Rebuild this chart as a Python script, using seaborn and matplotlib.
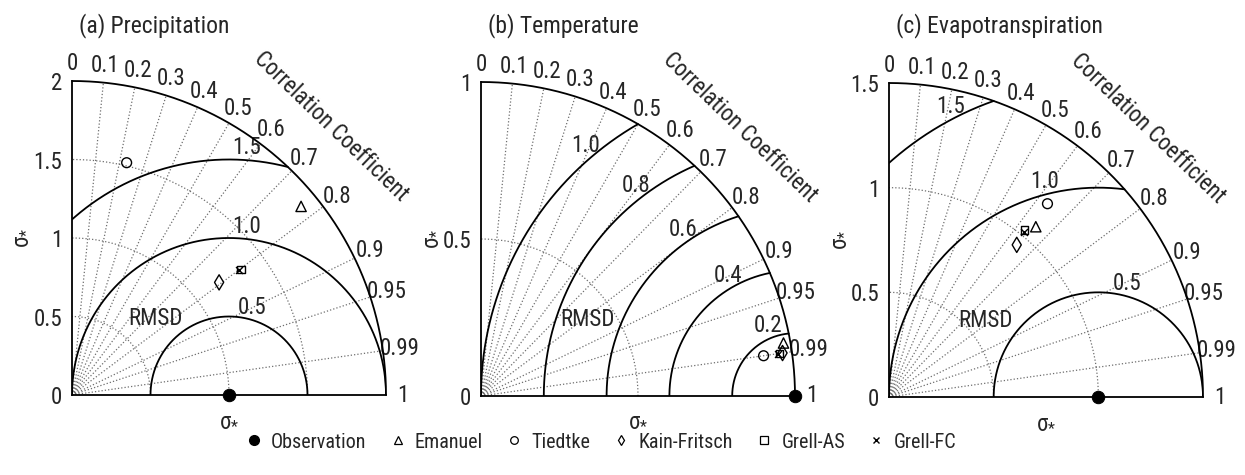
import numpy as np
import pandas as pd
import matplotlib
matplotlib.use("Agg")
import matplotlib.pyplot as plt
from matplotlib import font_manager
from matplotlib.lines import Line2D
import seaborn as sns

# ---------------------------------------------------------------- data
MODELS = ["Emanuel", "Tiedtke", "Kain-Fritsch", "Grell-AS", "Grell-FC"]
PANEL_TITLES = ["(a) Precipitation", "(b) Temperature", "(c) Evapotranspiration"]

# normalized standard deviation and correlation of each convection scheme
PRECIP_STD = [1.89, 1.52, 1.18, 1.34, 1.33]
PRECIP_CORR = [0.772, 0.229, 0.794, 0.803, 0.802]
TEMP_STD = [0.978, 0.909, 0.970, 0.960, 0.957]
TEMP_CORR = [0.985, 0.990, 0.990, 0.990, 0.990]
ET_STD = [1.074, 1.194, 0.949, 1.026, 1.020]
ET_CORR = [0.653, 0.634, 0.643, 0.630, 0.632]

OBS_STD = 1.0
OBS_CORR = 1.0

SIGMA_MAX = [2.0, 1.0, 1.5]
PRECIP_YTICKS = [0, 0.5, 1, 1.5, 2]
TEMP_YTICKS = [0, 0.5, 1]
ET_YTICKS = [0, 0.5, 1, 1.5]

CORR_TICKS = [0, 0.1, 0.2, 0.3, 0.4, 0.5, 0.6, 0.7, 0.8, 0.9, 0.95, 0.99, 1]
CORR_TICK_LABELS = ["0", "0.1", "0.2", "0.3", "0.4", "0.5", "0.6", "0.7",
                    "0.8", "0.9", "0.95", "0.99", "1"]

PRECIP_RMSD = [0.5, 1.0, 1.5]
TEMP_RMSD = [0.2, 0.4, 0.6, 0.8, 1.0]
ET_RMSD = [0.5, 1.0, 1.5]

PRECIP_SD_GRID = [0.5, 1.0, 1.5]
TEMP_SD_GRID = [0.5]
ET_SD_GRID = [0.5, 1.0]

LEGEND_LABELS = ["Observation"] + MODELS

# ---------------------------------------------------------------- style
sns.set_style("white")


def pick_narrow_font():
    """Return (family, stretch, is_narrow) for the narrowest Arial-like face on hand."""
    entries = font_manager.fontManager.ttflist
    names = {f.name for f in entries}
    for name in ("Liberation Sans Narrow", "Arial Narrow", "Roboto Condensed",
                 "Open Sans Condensed", "Noto Sans Condensed", "DejaVu Sans Condensed"):
        if name in names:
            return name, "normal", True
    for fam in ("Liberation Sans", "Roboto", "Noto Sans", "Open Sans", "DejaVu Sans"):
        for f in entries:
            st = f.stretch
            narrow = (st in ("condensed", "semi-condensed", "extra-condensed")
                      or (isinstance(st, (int, float)) and st <= 400))
            if f.name == fam and narrow and f.style == "normal":
                return fam, "condensed", True
    return "Liberation Sans", "normal", False


FONT, STRETCH, NARROW = pick_narrow_font()
plt.rcParams["font.family"] = [FONT, "Liberation Sans", "DejaVu Sans"]
plt.rcParams["font.stretch"] = STRETCH
plt.rcParams["mathtext.fontset"] = "custom"
for key in ("rm", "it", "bf", "sf"):
    plt.rcParams["mathtext." + key] = FONT

SCALE = 1.0 if NARROW else 0.88
FS = 16.5 * SCALE
FS_TITLE = 17 * SCALE
FS_LEGEND = 14.5 * SCALE
GRID_COLOR = "#6e6e6e"
LINE_W = 1.3
SIGMA_LABEL = r"$\sigma_{*}$"

MARKERS = {"Emanuel": "^", "Tiedtke": "o", "Kain-Fritsch": "d",
           "Grell-AS": "s", "Grell-FC": "x"}
MARKER_SIZE = {"Emanuel": 55, "Tiedtke": 50, "Kain-Fritsch": 60,
               "Grell-AS": 30, "Grell-FC": 25}

# per-panel placement of ring labels (angle seen from the observation point)
RMSD_LABEL_ANGLES = [[75, 84, 86], [111, 119, 124, 127, 130], [76, 104, 117]]
RMSD_TEXT_POS = [(0.53, 0.49), (0.34, 0.243), (0.46, 0.365)]

FIG_W, FIG_H = 1245, 475
BOX = 314
ORIGINS = [(72, 395), (481, 396), (889, 397)]

fig = plt.figure(figsize=(FIG_W / 100, FIG_H / 100), dpi=100)

panels = [
    (PRECIP_STD, PRECIP_CORR, PRECIP_YTICKS, PRECIP_RMSD, PRECIP_SD_GRID),
    (TEMP_STD, TEMP_CORR, TEMP_YTICKS, TEMP_RMSD, TEMP_SD_GRID),
    (ET_STD, ET_CORR, ET_YTICKS, ET_RMSD, ET_SD_GRID),
]

for i, (std, corr, yticks, rmsd, sd_grid) in enumerate(panels):
    smax = SIGMA_MAX[i]
    ox, oy = ORIGINS[i]
    ax = fig.add_axes([ox / FIG_W, (FIG_H - oy) / FIG_H, BOX / FIG_W, BOX / FIG_H])
    ax.set_xlim(0, smax)
    ax.set_ylim(0, smax)
    ax.set_facecolor("none")
    for side in ("top", "right"):
        ax.spines[side].set_visible(False)
    for side in ("left", "bottom"):
        ax.spines[side].set_color("black")
        ax.spines[side].set_linewidth(LINE_W)
        ax.spines[side].set_zorder(4)

    th = np.linspace(0, np.pi / 2, 400)
    # outer boundary arc
    ax.plot(smax * np.cos(th), smax * np.sin(th), color="black", lw=LINE_W,
            zorder=4, clip_on=False)
    # dotted standard-deviation arcs
    for s in sd_grid:
        ax.plot(s * np.cos(th), s * np.sin(th), ls=":", color=GRID_COLOR, lw=0.9, zorder=1)
    # dotted correlation rays
    for c in CORR_TICKS[1:-1]:
        a = np.arccos(c)
        ax.plot([0, smax * np.cos(a)], [0, smax * np.sin(a)], ls=":",
                color=GRID_COLOR, lw=0.9, zorder=1)
    # correlation labels round the outer arc
    for c, lab in zip(CORR_TICKS, CORR_TICK_LABELS):
        a = np.arccos(c)
        ax.annotate(lab, (smax * np.cos(a), smax * np.sin(a)),
                    xytext=(12.5 * np.cos(a), 12.5 * np.sin(a)),
                    textcoords="offset points", ha="center", va="center",
                    fontsize=FS, annotation_clip=False)
    ax.text(1.19 * smax * np.cos(np.radians(46)), 1.19 * smax * np.sin(np.radians(46)),
            "Correlation Coefficient", rotation=-44, ha="center", va="center",
            fontsize=FS, rotation_mode="anchor")

    # centered RMS difference arcs around the observation
    for r, ang in zip(rmsd, RMSD_LABEL_ANGLES[i]):
        lo = np.arccos(np.clip((smax ** 2 - OBS_STD ** 2 - r ** 2) / (2 * r * OBS_STD), -1, 1))
        hi = np.arccos(np.clip(-OBS_STD / r, -1, 1))
        t = np.linspace(lo, hi, 600)
        ax.plot(OBS_STD + r * np.cos(t), r * np.sin(t), color="black", lw=LINE_W, zorder=3)
        a = np.radians(ang)
        ax.annotate(f"{r:.1f}", (OBS_STD + r * np.cos(a), r * np.sin(a)),
                    xytext=(9 * np.cos(a), 9 * np.sin(a)), textcoords="offset points",
                    ha="center", va="center", fontsize=FS)
    ax.text(*RMSD_TEXT_POS[i], "RMSD", ha="center", va="center", fontsize=FS)

    # scheme markers
    df = pd.DataFrame({"model": MODELS, "std": std, "corr": corr})
    df["x"] = df["std"] * df["corr"]
    df["y"] = df["std"] * np.sin(np.arccos(df["corr"]))
    for model in MODELS:
        sub = df[df["model"] == model]
        m = MARKERS[model]
        if m == "x":
            sns.scatterplot(data=sub, x="x", y="y", marker=m, color="black",
                            s=MARKER_SIZE[model], linewidth=1.0, ax=ax, zorder=6,
                            legend=False)
        else:
            sns.scatterplot(data=sub, x="x", y="y", marker=m, facecolor="none",
                            edgecolor="black", s=MARKER_SIZE[model], linewidth=1.0,
                            ax=ax, zorder=6, legend=False)
    # observation point
    sns.scatterplot(x=[OBS_STD * OBS_CORR], y=[OBS_STD * np.sin(np.arccos(OBS_CORR))],
                    color="black", edgecolor="black", s=80, ax=ax, zorder=7,
                    legend=False, clip_on=False)

    ax.set_xlabel("")
    ax.set_ylabel("")
    ax.set_xticks([])
    ax.set_yticks(yticks)
    ax.set_yticklabels([f"{v:g}" for v in yticks], fontsize=FS)
    ax.tick_params(axis="y", length=0, pad=7)
    ax.text(-52 / BOX, 0.5, SIGMA_LABEL, rotation=90, ha="center", va="center",
            fontsize=FS, transform=ax.transAxes)
    ax.text(0.5, -24 / BOX, SIGMA_LABEL, ha="center", va="center",
            fontsize=FS, transform=ax.transAxes)
    ax.text(7 / BOX, (oy - 26) / BOX, PANEL_TITLES[i], ha="left", va="center",
            fontsize=FS_TITLE, transform=ax.transAxes)

# shared legend
handles = [Line2D([], [], marker="o", ls="none", color="black", markersize=7)]
for model in MODELS:
    m = MARKERS[model]
    if m == "x":
        handles.append(Line2D([], [], marker=m, ls="none", color="black",
                              markersize=5, markeredgewidth=1.0))
    else:
        handles.append(Line2D([], [], marker=m, ls="none", markerfacecolor="none",
                              markeredgecolor="black", markersize=5.5,
                              markeredgewidth=0.9))
fig.legend(handles, LEGEND_LABELS, loc="center", bbox_to_anchor=(600 / FIG_W, 1 - 442 / FIG_H),
           ncol=6, frameon=False, fontsize=FS_LEGEND, handlelength=1.0,
           handletextpad=0.35, columnspacing=1.05)

fig.savefig("out.png", dpi=100)
